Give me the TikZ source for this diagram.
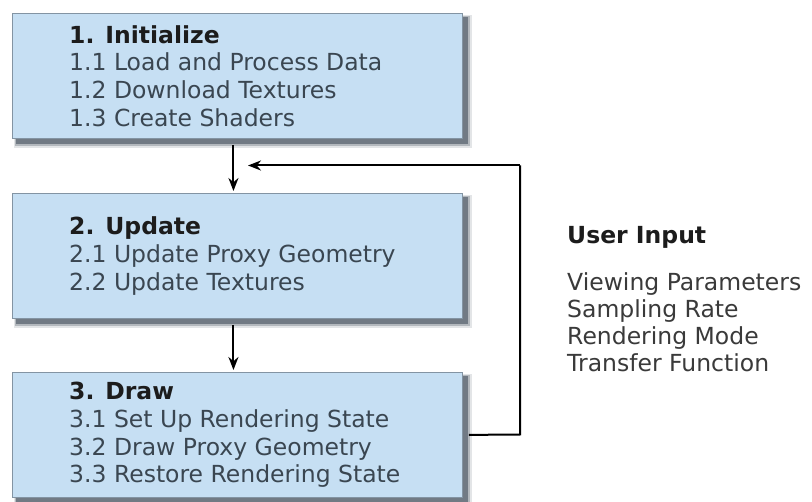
\documentclass[tikz,border=0pt]{standalone}
\usepackage{fontspec}
\setmainfont{DejaVu Sans}
\usetikzlibrary{arrows.meta,calc}
\definecolor{boxfill}{HTML}{C6DFF3}
\definecolor{boxline}{HTML}{8394A3}
\definecolor{shadowc}{HTML}{46525E}
\definecolor{headc}{HTML}{1C1C1C}
\definecolor{itemc}{HTML}{3A4651}
\definecolor{uic}{HTML}{3A3A3A}
\pgfdeclarelayer{background}
\pgfsetlayers{background,main}
\newcommand\stageshadow[1]{%
  \fill[shadowc, opacity=.15] ([xshift=2pt,yshift=-2pt]#1.north west) rectangle ([xshift=9pt,yshift=-9pt]#1.south east);
  \fill[shadowc, opacity=.3] ([xshift=3pt,yshift=-3pt]#1.north west) rectangle ([xshift=7.5pt,yshift=-7.5pt]#1.south east);
  \fill[shadowc, opacity=.6] ([xshift=4pt,yshift=-4pt]#1.north west) rectangle ([xshift=5.5pt,yshift=-5.5pt]#1.south east);
}
\begin{document}
\begin{tikzpicture}[x=1pt,y=-1pt,
  stagebox/.style={draw=boxline, line width=0.9pt, fill=boxfill, minimum width=450pt, minimum height=125pt, inner sep=0pt, anchor=north west},
  stagetext/.style={anchor=west, align=left, inner sep=0pt, text=itemc, font=\fontsize{23.5}{27.8}\selectfont},
  uitext/.style={anchor=west, align=left, inner sep=0pt, text=uic, font=\fontsize{23.5}{27}\selectfont},
  flow/.style={line width=2pt, -{Stealth[length=13pt,width=10pt]}},
  loopline/.style={line width=2pt},
]
\useasboundingbox (0,0) rectangle (812,502);

% stage boxes
\node[stagebox] (b1) at (12,13) {};
\node[stagebox] (b2) at (12,193) {};
\node[stagebox] (b3) at (12,372) {};
\begin{pgfonlayer}{background}
  \fill[white] (0,0) rectangle (812,502);
  \stageshadow{b1}
  \stageshadow{b2}
  \stageshadow{b3}
\end{pgfonlayer}

% stage texts
\node[stagetext] (t1) at ([xshift=57pt]b1.west) {\textbf{\color{headc}1. Initialize}\\1.1 Load and Process Data\\1.2 Download Textures\\1.3 Create Shaders};
\node[stagetext] (t2) at ([xshift=57pt]b2.west) {\textbf{\color{headc}2. Update}\\2.1 Update Proxy Geometry\\2.2 Update Textures};
\node[stagetext] (t3) at ([xshift=57pt]b3.west) {\textbf{\color{headc}3. Draw}\\3.1 Set Up Rendering State\\3.2 Draw Proxy Geometry\\3.3 Restore Rendering State};

% user input
\node[uitext, text=headc] (uih) at (567,237) {\textbf{User Input}};
\node[uitext] (uil) at (567,322.5) {Viewing Parameters\\Sampling Rate\\Rendering Mode\\Transfer Function};

% connectors
\coordinate (tip) at (248,165.5);
\coordinate (c1) at (520,434.5);
\coordinate (c2) at (520,165.5);
\draw[flow, shorten <=6pt, shorten >=2pt] ([xshift=-4pt]b1.south) -- ([xshift=-4pt]b2.north);
\draw[flow, shorten <=6pt, shorten >=2pt] ([xshift=-4pt]b2.south) -- ([xshift=-4pt]b3.north);
\draw[loopline, shorten <=6pt] (b3.east) -- (c1) -- (c2);
\draw[flow] (c2) -- (tip);
\end{tikzpicture}
\end{document}
